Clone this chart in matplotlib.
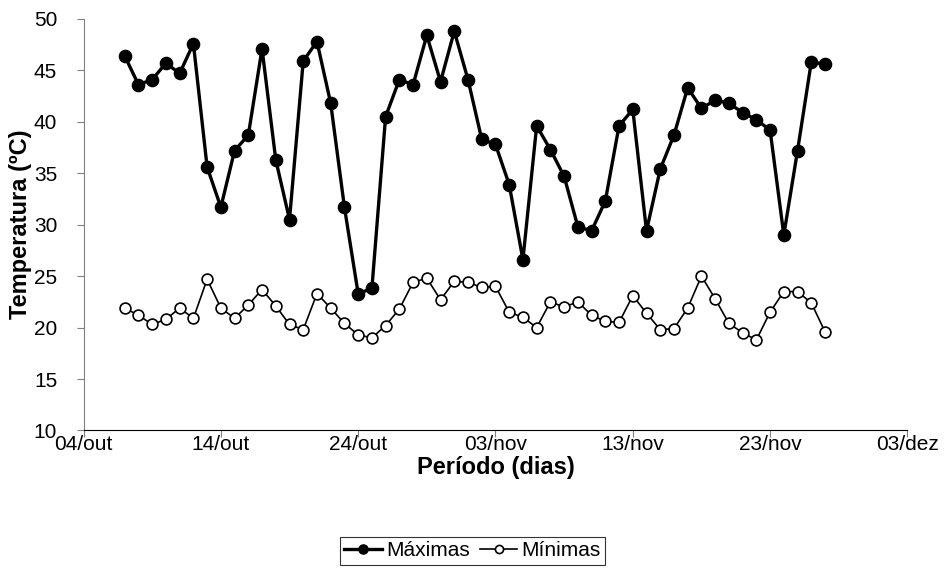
import numpy as np
import pandas as pd
import matplotlib
matplotlib.use('Agg')
import matplotlib.pyplot as plt
import matplotlib.dates as mdates
from matplotlib.ticker import FuncFormatter

plt.rcParams['font.family'] = ['Liberation Sans', 'DejaVu Sans']

# daily values, 07/out .. 27/nov
dates = pd.date_range('2007-10-07', periods=52, freq='D')

maximas = [46.4, 43.6, 44.1, 45.7, 44.7, 47.6, 35.6, 31.7, 37.2, 38.7,
           47.1, 36.3, 30.5, 45.9, 47.8, 41.8, 31.7, 23.3, 23.8, 40.5,
           44.1, 43.6, 48.4, 43.9, 48.8, 44.1, 38.3, 37.8, 33.9, 26.6,
           39.6, 37.3, 34.7, 29.8, 29.4, 32.3, 39.6, 41.2, 29.4, 35.4,
           38.7, 43.3, 41.3, 42.1, 41.8, 40.9, 40.2, 39.2, 29.0, 37.2,
           45.8, 45.6]

minimas = [21.9, 21.2, 20.3, 20.8, 21.9, 20.9, 24.7, 21.9, 20.9, 22.2,
           23.7, 22.1, 20.3, 19.8, 23.3, 21.9, 20.4, 19.3, 19.0, 20.2,
           21.8, 24.4, 24.8, 22.7, 24.5, 24.4, 23.9, 24.0, 21.5, 21.0,
           20.0, 22.5, 22.0, 22.5, 21.2, 20.6, 20.5, 23.1, 21.4, 19.8,
           19.9, 21.9, 25.0, 22.8, 20.4, 19.5, 18.8, 21.5, 23.5, 23.5,
           22.4, 19.6]

meses = {10: 'out', 11: 'nov', 12: 'dez'}

fig = plt.figure(figsize=(9.45, 5.72), dpi=100)
ax = fig.add_axes([0.0884, 0.2474, 0.8718, 0.7196])

ax.plot(dates, maximas, '-o', color='black', lw=2.4, ms=8.8,
        mfc='black', mec='black', label='Máximas', zorder=3)
ax.plot(dates, minimas, '-o', color='black', lw=1.2, ms=7.8,
        mfc='white', mec='black', mew=1.2, label='Mínimas', zorder=3)

ax.set_xlim(pd.Timestamp('2007-10-04'), pd.Timestamp('2007-12-03'))
ax.set_ylim(10, 50)
ax.set_yticks(np.arange(10, 51, 5))
ticks = pd.date_range('2007-10-04', '2007-12-03', freq='10D')
ax.set_xticks(ticks)
ax.xaxis.set_major_formatter(FuncFormatter(
    lambda v, p: '%02d/%s' % (mdates.num2date(v).day, meses[mdates.num2date(v).month])))

for s in ['top', 'right']:
    ax.spines[s].set_visible(False)
ax.spines['left'].set_color('#808080')
ax.spines['bottom'].set_color('black')
ax.tick_params(axis='y', colors='#808080', labelcolor='black', labelsize=15,
               length=5, direction='out', pad=14)
ax.tick_params(axis='x', colors='#808080', labelcolor='black', labelsize=15,
               length=5, direction='out', pad=-2)

ax.set_ylabel('Temperatura (ºC)', fontsize=17, fontweight='bold')
ax.set_xlabel('Período (dias)', fontsize=17, fontweight='bold')
ax.yaxis.set_label_coords(-0.077, 0.5)
ax.xaxis.set_label_coords(0.5, -0.089)
ax.xaxis.label.set_va('center')
ax.yaxis.label.set_va('center')

leg = fig.legend(loc='center', bbox_to_anchor=(0.5, 0.037), ncol=2,
                 fontsize=15, frameon=True, fancybox=False, markerscale=0.75,
                 handlelength=1.8, handletextpad=0.2, columnspacing=0.5,
                 borderpad=0.2)
leg.get_frame().set_edgecolor('black')
leg.get_frame().set_linewidth(0.8)

fig.savefig('out.png', dpi=100)
